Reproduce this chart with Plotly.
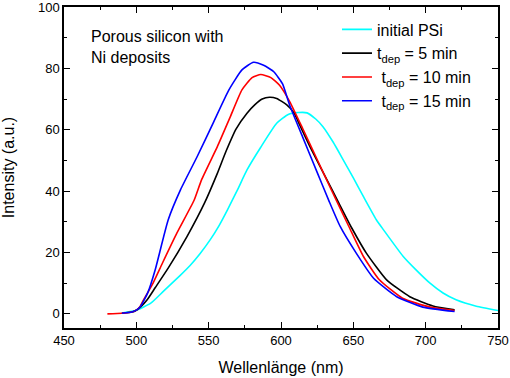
import plotly.graph_objects as go

# ---- data ----
wl_psi = [490, 500, 510, 519, 530, 537, 544, 551, 557, 563, 570, 576.5, 586, 597, 605, 612, 618, 624, 629, 636, 643, 650, 657, 666, 671, 684.5, 693, 703, 712, 721, 735, 750]
int_psi = [0.3, 1.2, 3.5, 7.5, 12.4, 15.7, 19.6, 24.1, 28.6, 33.9, 40.5, 46.9, 54.3, 62.1, 65, 65.6, 65.5, 63.5, 61, 56, 50.2, 44.3, 38.2, 30.6, 27.3, 18.7, 14.5, 10, 6.8, 4.6, 2.5, 1.1]

wl_5 = [490, 497, 500, 503, 507.5, 513, 522, 535, 547, 556, 562, 569, 576.5, 582, 587, 592, 597, 604, 609, 613, 620, 630, 640, 649, 659, 673, 689, 705, 720]
int_5 = [0.2, 0.6, 1.2, 2.3, 4.6, 8.5, 14.9, 25.2, 36, 45.8, 53, 60.3, 65.4, 68.2, 70, 70.6, 70.2, 68.1, 65.5, 61.5, 54.5, 45.3, 36.1, 27.9, 19.8, 11.1, 5.6, 2.6, 1.3]

wl_10 = [480, 490, 497, 500, 502.5, 505, 511, 518, 528, 540, 545, 556, 565, 573, 580, 586, 593, 599, 606, 615, 625, 635, 647, 657, 668, 684, 703, 720]
int_10 = [0, 0.2, 0.6, 1.2, 2.3, 4.6, 9.5, 16.5, 26.3, 37.1, 43.6, 54.5, 64.3, 73, 77, 78, 77, 74.5, 69.2, 60.4, 50.3, 40.2, 28.4, 18.7, 11.1, 5.1, 2.2, 1.1]

wl_15 = [490, 497, 500, 503, 508, 513, 522, 530.5, 542, 553, 564, 573, 581, 588, 595, 601, 606, 615, 625, 633, 641, 652, 664, 680, 698, 720]
int_15 = [0.2, 0.6, 1.2, 2.5, 7, 14.3, 30.6, 40.4, 51.2, 62.1, 73, 79.5, 82, 81, 78.9, 75, 68, 57.6, 46.1, 37, 28.4, 19.8, 11.6, 5.6, 2.2, 0.75]

names = ["initial PSi", "t<sub>dep</sub> = 5 min", " t<sub>dep</sub> = 10 min", " t<sub>dep</sub> = 15 min"]
colors = ["#00FFFF", "#000000", "#FF0000", "#0000FF"]

x_ticks = [450, 500, 550, 600, 650, 700, 750]
y_ticks = [0, 20, 40, 60, 80, 100]

FONT = "Liberation Sans, Arial, sans-serif"

fig = go.Figure()
for xs, ys, n, c in zip([wl_psi, wl_5, wl_10, wl_15], [int_psi, int_5, int_10, int_15], names, colors):
    fig.add_trace(go.Scatter(x=xs, y=ys, mode="lines", name=n,
                             line=dict(color=c, width=1.6, shape="spline", smoothing=0.5)))

axis_common = dict(showline=True, linecolor="black", linewidth=1.5, mirror="ticks",
                   ticks="inside", ticklen=6, tickwidth=1.2, tickcolor="black",
                   showgrid=False, zeroline=False, automargin=False, ticklabeloverflow="allow",
                   tickfont=dict(family=FONT, size=13, color="black"))

fig.update_xaxes(range=[450, 750], tickvals=x_ticks,
                 minor=dict(ticks="inside", ticklen=3, dtick=25, tick0=450, tickcolor="black", tickwidth=1.2),
                 title=dict(text="Wellenlänge (nm)", font=dict(family=FONT, size=16, color="black"), standoff=14),
                 **axis_common)
fig.update_yaxes(range=[-4.6, 100], tickvals=y_ticks,
                 minor=dict(ticks="inside", ticklen=3, dtick=10, tick0=0, tickcolor="black", tickwidth=1.2),
                 title=dict(text="Intensity (a.u.)", font=dict(family=FONT, size=16, color="black"), standoff=26),
                 **axis_common)

fig.add_annotation(text="Porous silicon with<br>Ni deposits", xref="paper", yref="paper",
                   x=0.058, y=0.94, xanchor="left", yanchor="top", showarrow=False, align="left",
                   font=dict(family=FONT, size=16, color="black"))

fig.update_layout(width=510, height=378, margin=dict(l=64, r=12, t=7, b=50),
                  paper_bgcolor="white", plot_bgcolor="white",
                  font=dict(family=FONT, color="black"),
                  legend=dict(x=0.629, y=0.983, xanchor="left", yanchor="top",
                              bgcolor="rgba(0,0,0,0)", font=dict(family=FONT, size=16, color="black"),
                              tracegroupgap=0, itemwidth=30))

fig.write_html("out.html", config={"displayModeBar": False},
               post_script="document.body.style.margin='0';")
